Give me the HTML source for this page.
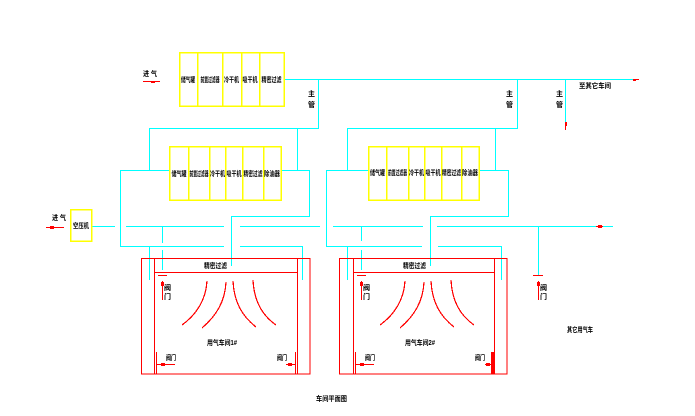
<!DOCTYPE html>
<html><head><meta charset="utf-8"><style>
html,body{margin:0;padding:0;background:#fff;}
svg{display:block;}
text{font-family:"Liberation Sans","Noto Sans CJK SC",sans-serif;font-size:7px;font-weight:bold;fill:#000;}
</style></head><body>
<svg width="695" height="416" viewBox="0 0 695 416" xmlns="http://www.w3.org/2000/svg" shape-rendering="crispEdges">
<g fill="none" stroke="#00ffff" stroke-width="1">
<!-- main top line -->
<path d="M284 79.5H633"/>
<path d="M318.5 79V128.5H149.5V170.5H120.5V246.5H224"/>
<path d="M120 170.5H170"/>
<path d="M297.5 128V170.5"/>
<path d="M281 170.5H309.5V216.5H231.5V266"/>
<path d="M517.5 79V128.5H347.5V170.5"/>
<path d="M495.5 128V170.5"/>
<path d="M326.5 170.5H368"/>
<path d="M326.5 170V246.5H422"/>
<path d="M479 170.5H508.5V216.5H430.5V266"/>
<path d="M565.5 79V128"/>
<!-- middle row -->
<path d="M92 226.5H115M126 226.5H224M240 226.5H320M333 226.5H423M437 226.5H613"/>
<path d="M162.5 226V243M162.5 250V270"/>
<path d="M361.5 226V241M361.5 250V270"/>
<path d="M240 246.5H302.5V280"/>
<path d="M438 246.5H501.5V280"/>
<path d="M149.5 246V280"/>
<path d="M347.5 246V280"/>
<path d="M538.5 226V275"/>
</g>
<g fill="none" stroke="#ffff00" stroke-width="1.5">
<rect x="179.5" y="52.5" width="104.5" height="53.5"/>
<path d="M197.5 52V106M222.5 52V106M241.5 52V106M259.5 52V106"/>
<rect x="169.5" y="146.5" width="111.5" height="53.5"/>
<path d="M188.5 146V200M209.5 146V200M225.5 146V200M242.5 146V200M263.5 146V200"/>
<rect x="368.5" y="146.5" width="110.5" height="53.5"/>
<path d="M386.5 146V200M408.5 146V200M424.5 146V200M441.5 146V200M461.5 146V200"/>
<rect x="70.5" y="209.5" width="21" height="31.5"/>
</g>
<g fill="none" stroke="#ff0000" stroke-width="1.2">
<rect x="141.5" y="258.5" width="168.5" height="115.5"/>
<path d="M154.5 258V374M297.5 258V374M154 272.5H297"/>
<rect x="339.5" y="258.5" width="167.5" height="115.5"/>
<path d="M353.5 258V374M494.5 258V374M353 272.5H494"/>
<!-- small valves -->
<path d="M158 275.5H167M162.5 281V300"/>
<path d="M357 275.5H366M361.5 281V300"/>
<path d="M533 275.5H543M538.5 281V300"/>
<!-- doors -->
<path d="M156.5 352V374M157 364.5H175M286 364.5H296M295.5 352V374"/>
<path d="M355.5 352V374M356 364.5H374M485 364.5H493M492.5 352V374" />
<path d="M143 81.5H160M46 227.5H64M565.5 122V130M633 79.5H639M596 226.5H603"/>
<!-- curves -->
<path d="M207 281C206 300 196 315 182 325M226 282C225 302 216 316 202 328M233 281C234 302 242 316 256 327M253 280C254 302 263 316 276 325"/>
<path d="M405 281C404 300 394 315 380 325M424 282C423 302 414 316 400 328M431 281C432 302 440 316 454 327M451 280C452 302 461 316 474 325"/>
</g>
<g fill="#ff0000">
<rect x="161" y="363" width="4" height="3"/><rect x="288" y="363" width="4" height="3"/>
<rect x="360" y="363" width="4" height="3"/><rect x="486" y="363" width="4" height="3"/>
<rect x="491" y="352" width="3" height="22"/>
<rect x="50" y="226" width="4" height="3"/><rect x="151" y="81" width="4" height="2"/>
<rect x="598" y="225" width="4" height="3"/><rect x="633" y="79" width="3" height="2"/>
<rect x="565" y="122" width="2" height="4"/>
<rect x="161" y="282" width="3" height="4"/><rect x="360" y="282" width="3" height="4"/><rect x="537" y="282" width="3" height="4"/>
</g>
<g>
<text x="188" y="82" text-anchor="middle" textLength="14" lengthAdjust="spacingAndGlyphs">储气罐</text>
<text x="210" y="82" text-anchor="middle" textLength="19" lengthAdjust="spacingAndGlyphs">前置过滤器</text>
<text x="231.5" y="82" text-anchor="middle" textLength="15" lengthAdjust="spacingAndGlyphs">冷干机</text>
<text x="250" y="82" text-anchor="middle" textLength="15" lengthAdjust="spacingAndGlyphs">吸干机</text>
<text x="271.5" y="82" text-anchor="middle" textLength="20" lengthAdjust="spacingAndGlyphs">精密过滤</text>
<text x="179" y="176" text-anchor="middle" textLength="15" lengthAdjust="spacingAndGlyphs">储气罐</text>
<text x="199" y="176" text-anchor="middle" textLength="19" lengthAdjust="spacingAndGlyphs">前置过滤器</text>
<text x="217.5" y="176" text-anchor="middle" textLength="15" lengthAdjust="spacingAndGlyphs">冷干机</text>
<text x="234" y="176" text-anchor="middle" textLength="15" lengthAdjust="spacingAndGlyphs">吸干机</text>
<text x="253" y="176" text-anchor="middle" textLength="19" lengthAdjust="spacingAndGlyphs">精密过滤</text>
<text x="272" y="176" text-anchor="middle" textLength="16" lengthAdjust="spacingAndGlyphs">除油器</text>
<text x="377.5" y="175" text-anchor="middle" textLength="15" lengthAdjust="spacingAndGlyphs">储气罐</text>
<text x="397.5" y="175" text-anchor="middle" textLength="19" lengthAdjust="spacingAndGlyphs">前置过滤器</text>
<text x="416.5" y="175" text-anchor="middle" textLength="15" lengthAdjust="spacingAndGlyphs">冷干机</text>
<text x="433" y="175" text-anchor="middle" textLength="15" lengthAdjust="spacingAndGlyphs">吸干机</text>
<text x="451.5" y="175" text-anchor="middle" textLength="19" lengthAdjust="spacingAndGlyphs">精密过滤</text>
<text x="470" y="175" text-anchor="middle" textLength="16" lengthAdjust="spacingAndGlyphs">除油器</text>
<text x="81" y="228" text-anchor="middle" textLength="16" lengthAdjust="spacingAndGlyphs">空压机</text>
<text x="52" y="220" textLength="14" lengthAdjust="spacingAndGlyphs">进 气</text>
<text x="143" y="76" textLength="14" lengthAdjust="spacingAndGlyphs">进 气</text>
<text x="308" y="96" font-size="6">主</text><text x="308" y="107" font-size="6">管</text>
<text x="506" y="96" font-size="6">主</text><text x="506" y="107" font-size="6">管</text>
<text x="556" y="96" font-size="6">主</text><text x="556" y="107" font-size="6">管</text>
<text x="579" y="88" textLength="32" lengthAdjust="spacingAndGlyphs">至其它车间</text>
<text x="204" y="268" textLength="23" lengthAdjust="spacingAndGlyphs">精密过滤</text>
<text x="403" y="268" textLength="23" lengthAdjust="spacingAndGlyphs">精密过滤</text>
<text x="164" y="290" font-size="6">阀</text><text x="164" y="299" font-size="6">门</text>
<text x="363" y="290" font-size="6">阀</text><text x="363" y="299" font-size="6">门</text>
<text x="540" y="290" font-size="6">阀</text><text x="540" y="299" font-size="6">门</text>
<text x="207" y="345" textLength="30" lengthAdjust="spacingAndGlyphs">用气车间1#</text>
<text x="405" y="345" textLength="30" lengthAdjust="spacingAndGlyphs">用气车间2#</text>
<text x="567" y="332" textLength="26" lengthAdjust="spacingAndGlyphs">其它用气车</text>
<text x="166" y="360" textLength="10" lengthAdjust="spacingAndGlyphs">阀门</text>
<text x="277" y="360" textLength="10" lengthAdjust="spacingAndGlyphs">阀门</text>
<text x="365" y="360" textLength="10" lengthAdjust="spacingAndGlyphs">阀门</text>
<text x="475" y="360" textLength="10" lengthAdjust="spacingAndGlyphs">阀门</text>
<text x="316" y="401" textLength="31" lengthAdjust="spacingAndGlyphs">车间平面图</text>
</g>
</svg>
</body></html>
